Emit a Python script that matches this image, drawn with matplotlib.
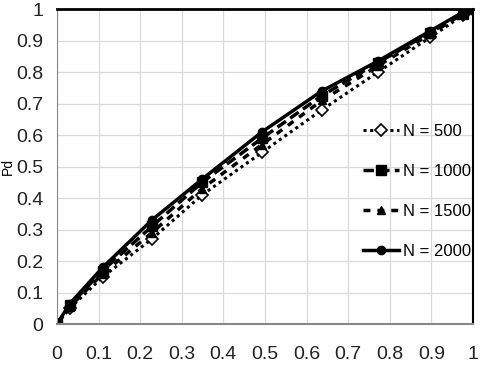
import matplotlib
matplotlib.use('Agg')
import matplotlib.pyplot as plt

# Pf (false alarm) positions shared by all curves
pf = [0.0, 0.031, 0.11, 0.228, 0.349, 0.493, 0.637, 0.772, 0.897, 0.976, 1.0]

# Pd for each sample size N
pd_500 = [0.0, 0.05, 0.15, 0.27, 0.41, 0.545, 0.68, 0.80, 0.91, 0.98, 1.0]
pd_1000 = [0.0, 0.06, 0.17, 0.31, 0.45, 0.59, 0.725, 0.83, 0.925, 0.985, 1.0]
pd_1500 = [0.0, 0.055, 0.16, 0.29, 0.43, 0.57, 0.71, 0.82, 0.92, 0.985, 1.0]
pd_2000 = [0.0, 0.065, 0.18, 0.33, 0.46, 0.61, 0.74, 0.835, 0.93, 0.99, 1.0]

labels = ['N = 500', 'N = 1000', 'N = 1500', 'N = 2000']
x_ticks = [0, 0.1, 0.2, 0.3, 0.4, 0.5, 0.6, 0.7, 0.8, 0.9, 1]
tick_labels = ['0', '0.1', '0.2', '0.3', '0.4', '0.5', '0.6', '0.7', '0.8', '0.9', '1']

plt.rcParams['font.family'] = ['Liberation Sans', 'DejaVu Sans']

fig = plt.figure(figsize=(4.87, 3.76), dpi=100)
ax = fig.add_axes([0.117, 0.138, 0.854, 0.838])

ax.plot(pf, pd_500, color='black', linestyle=(0, (1, 1.2)), linewidth=2.2,
        marker='D', markersize=6, markerfacecolor='white', markeredgecolor='black',
        markeredgewidth=1.2, label=labels[0])
ax.plot(pf, pd_1000, color='black', linestyle=(0, (3, 1.5)), linewidth=2.5,
        marker='s', markersize=7, label=labels[1])
ax.plot(pf, pd_1500, color='black', linestyle=(0, (2, 2)), linewidth=2.5,
        marker='^', markersize=6, label=labels[2])
ax.plot(pf, pd_2000, color='black', linestyle='-', linewidth=2.5,
        marker='o', markersize=6, label=labels[3])

ax.set_xlim(0, 1)
ax.set_ylim(0, 1)
ax.set_xticks(x_ticks)
ax.set_xticklabels(tick_labels)
ax.set_yticks(x_ticks)
ax.set_yticklabels(tick_labels)
ax.tick_params(axis='both', length=0, labelsize=14, colors='#222222')
ax.tick_params(axis='x', pad=16)
ax.tick_params(axis='y', pad=10)
ax.grid(True, color='#d9d9d9', linewidth=0.9)
ax.set_axisbelow(True)

ax.spines['left'].set_color('#888888')
ax.spines['bottom'].set_color('#888888')
ax.spines['bottom'].set_linewidth(1.5)
ax.spines['top'].set_color('black')
ax.spines['top'].set_linewidth(2)
ax.spines['right'].set_color('black')
ax.spines['right'].set_linewidth(1.5)

ax.set_ylabel('Pd', fontsize=10, labelpad=1)

ax.legend(loc='upper left', bbox_to_anchor=(0.735, 0.635), frameon=False,
          fontsize=12, handlelength=2.2, handletextpad=0.2, labelspacing=1.5,
          borderpad=0, borderaxespad=0)

plt.savefig('out.png', dpi=100)
